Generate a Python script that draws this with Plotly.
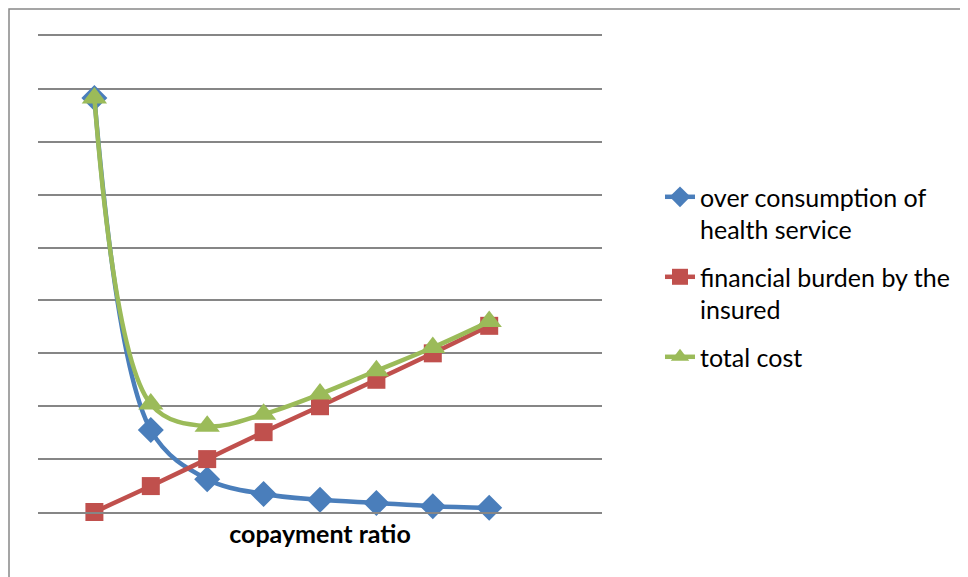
import plotly.graph_objects as go

# data (grid units)
x_pos = [1, 2, 3, 4, 5, 6, 7, 8]
over_consumption = [7.83, 1.55, 0.62, 0.34, 0.23, 0.17, 0.11, 0.08]
financial_burden = [0.0, 0.49, 1.0, 1.51, 2.0, 2.5, 3.0, 3.52]
total_cost = [7.83, 2.04, 1.62, 1.85, 2.23, 2.67, 3.11, 3.60]

names = ["over consumption of<br>health service",
         "financial burden by the<br>insured",
         "total cost"]
colors = ["#4A7EBB", "#C0504D", "#9BBB59"]
symbols = ["diamond", "square", "triangle-up"]
sizes = [20, 18, 22]
series = [over_consumption, financial_burden, total_cost]

fig = go.Figure()
for i, (name, vals, col, sym, sz) in enumerate(zip(names, series, colors, symbols, sizes)):
    fig.add_trace(go.Scatter(
        x=x_pos, y=vals, name=name, mode="lines+markers", legendgroup=f"g{i}",
        line=dict(color=col, width=4.5, shape="spline", smoothing=1.0),
        marker=dict(symbol=sym, size=sz, color=col),
        cliponaxis=False,
    ))

# page body has an 8px default margin; figure sized to fit the window
W, H = 960, 569
L, T, PW, PH = 30, 28, 564, 476
R = W - L - PW
B = H - T - PH
fig.update_layout(
    width=W, height=H,
    margin=dict(l=L, r=R, t=T, b=B, autoexpand=False),
    paper_bgcolor="white", plot_bgcolor="white",
    font=dict(family="Lato, Carlito, Calibri, sans-serif", size=25, color="black"),
    showlegend=True,
    legend=dict(x=1.0 + (652 - L - PW) / PW, y=0.71, xanchor="left", yanchor="top",
                valign="top", tracegroupgap=12,
                font=dict(size=25)),
    xaxis=dict(range=[0, 10], showticklabels=False, showgrid=False, zeroline=False,
               ticks="", showline=True, mirror=True, linecolor="#868686", linewidth=1.5,
               title=dict(text="<b>copayment ratio</b>", font=dict(size=25), standoff=13)),
    yaxis=dict(range=[0, 9], dtick=1, showticklabels=False, showgrid=True,
               gridcolor="#868686", gridwidth=1.5, zeroline=False, ticks="",
               showline=False),
    shapes=[dict(type="rect", xref="paper", yref="paper",
                 x0=(1 - L) / PW, x1=(W + 20 - L) / PW,
                 y0=-(B + 20) / PH, y1=(PH + T - 1) / PH,
                 line=dict(color="#888888", width=1.5), layer="below")],
)
fig.write_html("out.html")
